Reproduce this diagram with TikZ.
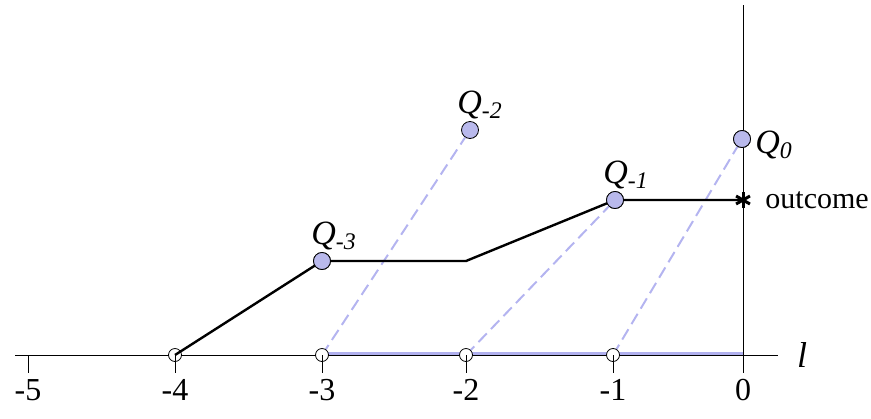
\documentclass[tikz,border=0pt]{standalone}
\usepackage{fontspec}
\setmainfont{Liberation Serif}
\usetikzlibrary{positioning}
\definecolor{QFill}{HTML}{B9B9EC}
\definecolor{QDash}{HTML}{B4B4F0}
\definecolor{LBlue}{HTML}{B0B0EE}

\begin{document}
\begin{tikzpicture}[x=0.5pt,y=-0.5pt,
  qdot/.style={circle,draw,fill=QFill,inner sep=0pt,minimum size=8.5pt},
  ldot/.style={circle,draw,fill=white,inner sep=0pt,minimum size=6.5pt},
  qlab/.style={font=\fontsize{17}{17}\selectfont\itshape,inner sep=1pt},
  ticklab/.style={font=\fontsize{16}{16}\selectfont,inner sep=1pt},
  qdash/.style={QDash,line width=1pt,dash pattern=on 6pt off 3pt}]
  \useasboundingbox (0,0) rectangle (871,418);
  % axes
  \coordinate (xs) at (15,355);
  \coordinate (xe) at (778,355);
  \coordinate (ys) at (743,5);
  \draw (xs) -- (xe);
  \node[right=6pt of xe,font=\fontsize{18}{18}\selectfont\itshape] (lab) {l};
  \foreach \xp/\lab [count=\k] in {28/-5,175/-4,322/-3,466/-2,613/-1,743/0}{
    \coordinate (a\k) at (\xp,355);
    \draw (a\k) -- ++(0,18) node[below=2pt,ticklab] (n\k) {\lab};
  }
  \draw (ys) -- (a6);
  \draw[LBlue,line width=1.5pt] ([yshift=1pt]a3) -- ([yshift=1pt]a6);
  % points
  \node[qdot] (q3) at (322,261) {};
  \node[qdot] (q2) at (470,130) {};
  \node[qdot] (q1) at (615,200) {};
  \node[qdot] (q0) at (742,139) {};
  \coordinate (bend) at (466,261);
  \coordinate (out) at (743,200);
  \draw[qdash] (a3) -- (q2);
  \draw[qdash] (a4) -- (q1);
  \draw[qdash] (a5) -- (q0);
  \foreach \k in {2,...,5}
    \node[ldot] (l\k) at (a\k) {};
  \draw[line width=1.2pt] (l2.center) -- (q3.center) -- (bend) -- (q1.center) -- (out);
  \foreach \k in {2,...,5}
    \draw (l\k.center) -- ++(0,18);
  \foreach \r in {q3,q1,q0}
    \node[qdot] at (\r) {};
  \foreach \ang in {90,30,150}
    \draw[line width=1.5pt] (out) ++(\ang:8) -- ++(\ang+180:16);
  % labels
  \node[qlab,above=0pt of q3,xshift=6pt] {Q\textsubscript{-3}};
  \node[qlab,above=0pt of q2,xshift=5pt] {Q\textsubscript{-2}};
  \node[qlab,above=0pt of q1,xshift=5.5pt] {Q\textsubscript{-1}};
  \node[qlab,right=1pt of q0,yshift=-3pt] {Q\textsubscript{0}};
  \node[right=10pt of out,font=\fontsize{15}{15}\selectfont,inner sep=1pt] {outcome};
\end{tikzpicture}
\end{document}
